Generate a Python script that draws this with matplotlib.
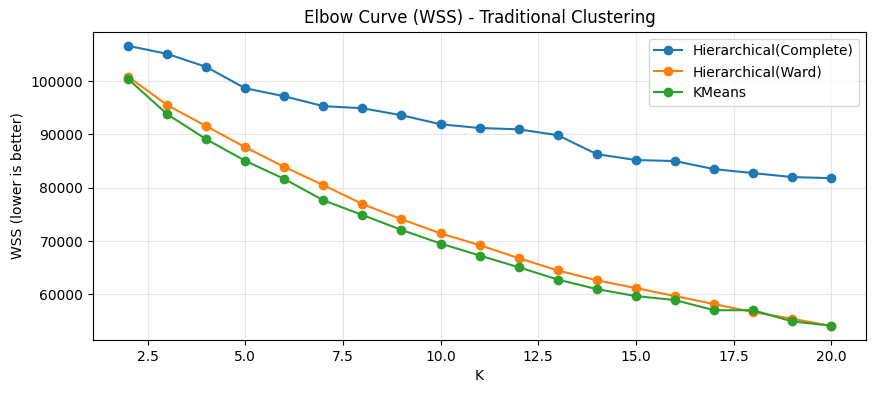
import numpy as np
import matplotlib.pyplot as plt

k = list(range(2, 21))

# WSS por metodo
wss_complete = [106600, 105100, 102650, 98650, 97150, 95300, 94900, 93600, 91900, 91200,
                90950, 89850, 86300, 85200, 85000, 83500, 82750, 82000, 81800]
wss_ward = [100850, 95500, 91550, 87600, 83900, 80500, 76950, 74100, 71450, 69250,
            66800, 64500, 62650, 61200, 59700, 58200, 56700, 55450, 54100]
wss_kmeans = [100400, 93800, 89100, 85050, 81650, 77650, 74900, 72100, 69550, 67300,
              65100, 62800, 61000, 59700, 58950, 57050, 57050, 54950, 54150]

fig = plt.figure(figsize=(8.76, 3.93), dpi=100)
plt.plot(k, wss_complete, "o-", label="Hierarchical(Complete)")
plt.plot(k, wss_ward, "o-", label="Hierarchical(Ward)")
plt.plot(k, wss_kmeans, "o-", label="KMeans")
plt.xlabel("K")
plt.ylabel("WSS (lower is better)")
plt.title("Elbow Curve (WSS) - Traditional Clustering")
plt.legend()
plt.grid(True, alpha=0.3)
plt.subplots_adjust(left=0.106, right=0.989, top=0.919, bottom=0.135)
plt.savefig("out.png")
